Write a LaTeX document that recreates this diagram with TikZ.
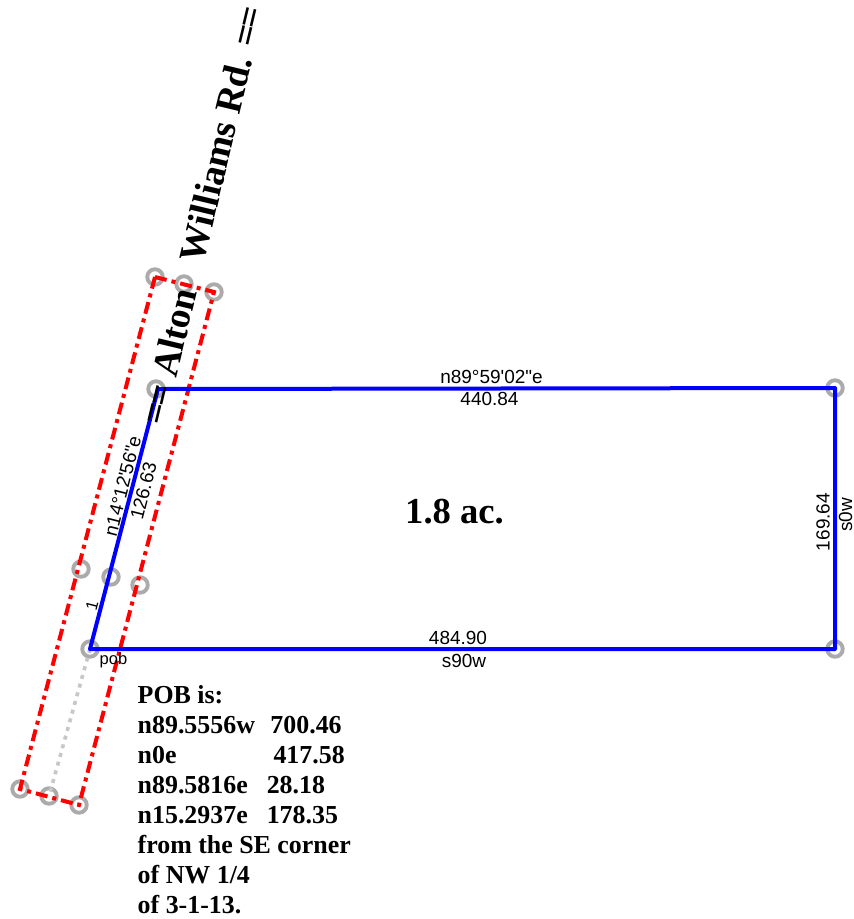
\documentclass[tikz,border=0pt]{standalone}
\usepackage{fontspec}
\setmainfont{Liberation Serif}
\newfontfamily\arialf{Liberation Sans}
\usetikzlibrary{calc}
\tikzset{
 pin/.style={circle,draw=black!33,line width=3.9pt,minimum size=15.5pt,inner sep=0pt,fill=none},
 lab/.style={font=\arialf\fontsize{19}{20}\selectfont,inner sep=0pt,text=black},
 small/.style={font=\arialf\fontsize{16.5}{17}\selectfont,inner sep=0pt,text=black},
 boundary/.style={draw=blue,line width=4pt,line join=round},
 easement/.style={draw=red,line width=4pt,dash pattern=on 12pt off 5pt on 4pt off 5pt},
 centerline/.style={draw=black!22,line width=3.6pt,dash pattern=on 4pt off 5pt},
 road/.style={font=\bfseries\fontsize{37.5}{40}\selectfont,inner sep=0pt,text=black},
 areal/.style={font=\bfseries\fontsize{36.6}{40}\selectfont,inner sep=0pt,text=black},
 note/.style={font=\bfseries\fontsize{25.9}{30}\selectfont,inner sep=0pt,align=left,anchor=north west,text=black},
}
\begin{document}
\begin{tikzpicture}[x=1pt,y=-1pt]
\useasboundingbox[fill=white] (0,0) rectangle (854,919);
% pins
\node[pin] (a1) at (155,277) {};
\node[pin] (a2) at (184,284) {};
\node[pin] (a3) at (214,292) {};
\node[pin] (b1) at (81,569) {};
\node[pin] (b2) at (111,577) {};
\node[pin] (b3) at (140,585) {};
\node[pin] (c1) at (20,789) {};
\node[pin] (c2) at (49,796) {};
\node[pin] (c3) at (79,805) {};
\node[pin] (p) at (90,649) {};
\node[pin] (q) at (156,389) {};
\node[pin] (r) at (835,388) {};
\node[pin] (s) at (835,649) {};
% lines
\draw[centerline] (p.center) -- (c2.center);
\draw[easement] (a1.center) -- (a3.center) -- (c3.center) -- (c1.center) -- (a1.center);
\draw[boundary] (p.center) -- ($(q.center)+(2,0)$) -- (r.center) -- (s.center) -- cycle;
% labels
\node[lab] (t1) at (491.5,377) {n89°59'02"e};
\node[lab] (t2) at (489.5,399) {440.84};
\node[lab] (t3) at (458,638) {484.90};
\node[lab] (t4) at (464,661) {s90w};
\node[lab,rotate=90] (t5) at (823,522) {169.64};
\node[lab,rotate=90] (t6) at (845.5,515) {s0w};
\node[lab,rotate=75.8] (t7) at (122.5,486) {n14°12'56"e};
\node[lab,rotate=75.8] (t8) at (143.5,491) {126.63};
\node[small,rotate=75.8] (t9) at (92,606) {1};
\node[small] (t10) at (113.5,660) {pob};
\node[road,rotate=76.5] (t11) at (202.5,215) {=\kern-3.5pt= Alton\hspace{19pt} Williams Rd. =\kern-3.5pt=};
\node[areal] (t12) at (454.5,512) {1.8 ac.};
\node[note] (t13) at (137.5,685) {POB is:\\
n89.5556w\hspace{15.5pt}700.46\\
n0e\hspace{97pt}417.58\\
n89.5816e\hspace{19pt}28.18\\
n15.2937e\hspace{19pt}178.35\\
from the SE corner\\
of NW 1/4\\
of 3-1-13.};
\end{tikzpicture}
\end{document}
